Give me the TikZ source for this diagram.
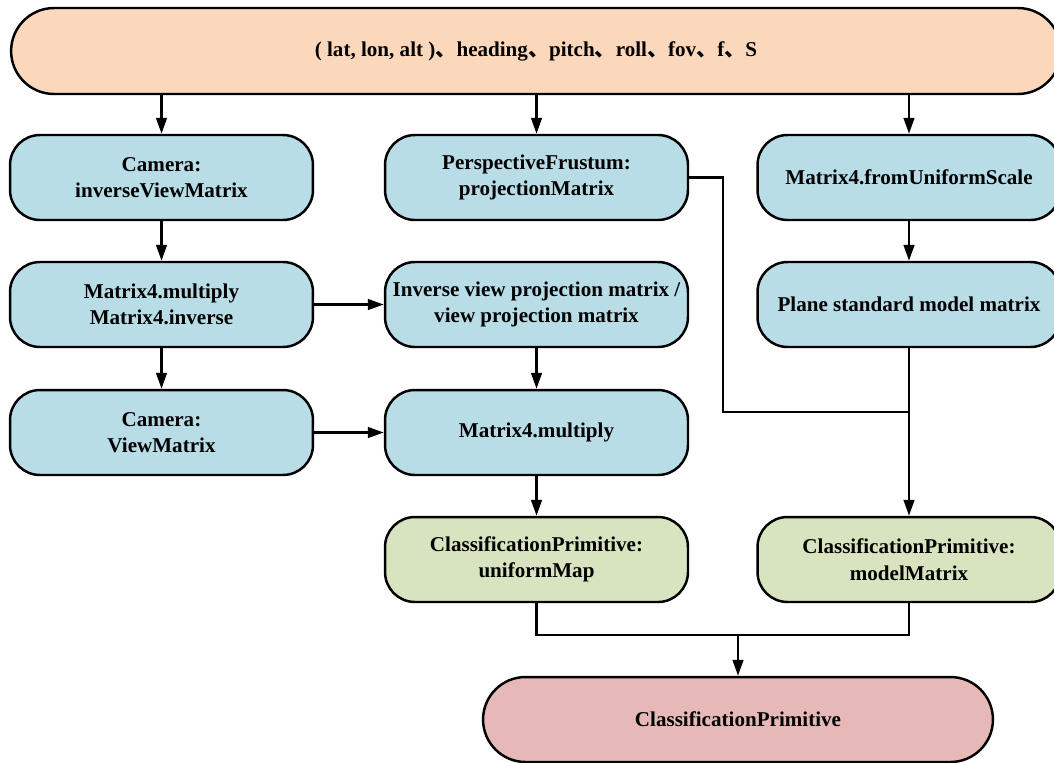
\documentclass[tikz,border=0pt]{standalone}
\usepackage{fontspec}
\setmainfont{Liberation Serif}
\newfontfamily\cjk{Noto Sans CJK SC}
\usetikzlibrary{arrows.meta}
\definecolor{peach}{HTML}{FBD7BB}
\definecolor{lightblue}{HTML}{B8DDE7}
\definecolor{lightgreen}{HTML}{D8E4BF}
\definecolor{lightpink}{HTML}{E6B8B7}
\newcommand{\dun}{{\cjk 、}}
\begin{document}
\begin{tikzpicture}[x=0.02cm,y=-0.02cm,line width=1.4pt,
    >={Triangle[length=9pt,width=6pt]},
    font=\bfseries\fontsize{12}{15}\selectfont,
    box/.style={draw,rounded corners=0.6cm,minimum width=6.06cm,minimum height=1.7cm,align=center,fill=lightblue},
    outbox/.style={box,fill=lightgreen},
    pill/.style={draw,rounded corners=0.86cm,minimum height=1.72cm,align=center}]
                \useasboundingbox (0,0) rectangle (1054,762);
                \node[pill,fill=peach,minimum width=21.0cm] (in) at (536,51) {( lat, lon, alt )\dun heading\dun pitch\dun roll\dun fov\dun f\dun S};
                % first row
                \node[box] (cam) at (161.5,177.5) {Camera:\\inverseViewMatrix};
                \node[box] (frus) at (536.5,177.5) {PerspectiveFrustum:\\projectionMatrix};
                \node[box] (scale) at (909,177.5) {Matrix4.fromUniformScale};
                % second row
                \node[box] (mult) at (161.5,304.5) {Matrix4.multiply\\Matrix4.inverse};
                \node[box] (ivp) at (536.5,304.5) {Inverse view projection matrix /\\view projection matrix};
                \node[box] (plane) at (909,304.5) {Plane standard model matrix};
                % third row
                \node[box] (view) at (161.5,432.5) {Camera:\\ViewMatrix};
                \node[box] (mult2) at (536.5,432.5) {Matrix4.multiply};
                % outputs
                \node[outbox] (umap) at (536.5,559.5) {ClassificationPrimitive:\\uniformMap};
                \node[outbox] (model) at (909,559.5) {ClassificationPrimitive:\\modelMatrix};
                \node[pill,fill=lightpink,minimum width=10.2cm,minimum height=1.7cm,rounded corners=0.85cm] (prim) at (738,719.5) {ClassificationPrimitive};
                \draw[->] (in.south -| cam) -- (cam);
                \draw[->] (in.south -| frus) -- (frus);
                \draw[->] (in.south -| scale) -- (scale);
                \draw[->] (cam) -- (mult);
                \draw[->] (mult) -- (view);
                \draw[->] (mult) -- (ivp);
                \draw[->] (view) -- (mult2);
                \draw[->] (ivp) -- (mult2);
                \draw[->] (mult2) -- (umap);
                \draw[->] (scale) -- (plane);
                \draw (frus.east) -| (723,412) -- (909,412);
                \draw[->] (plane) -- (model);
                \draw (umap.south) |- (909,635) -- (model.south);
                \draw[->] (738,635) -- (prim);
            \end{tikzpicture}
\end{document}
